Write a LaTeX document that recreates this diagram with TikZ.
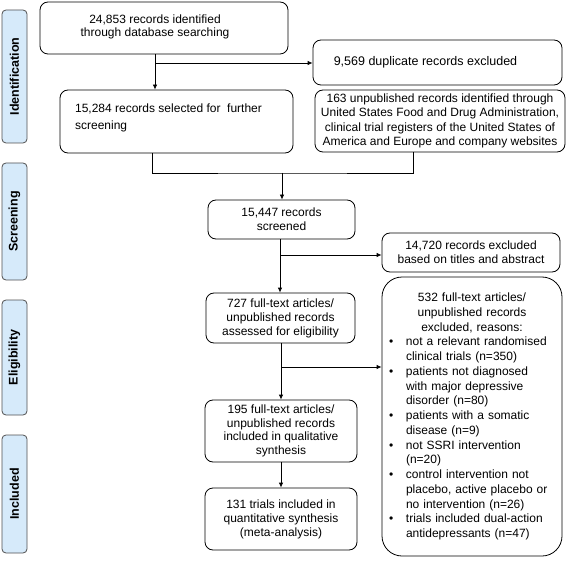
\documentclass[tikz,border=0pt]{standalone}
\usepackage{fontspec}
\setmainfont{Liberation Sans}
\usetikzlibrary{arrows.meta}
\definecolor{sideblue}{RGB}{214,234,250}
\definecolor{sidegray}{RGB}{80,80,80}
\begin{document}
\begin{tikzpicture}[x=1pt,y=-1pt,
  box/.style={draw, rounded corners=8pt, line width=0.8pt, inner sep=0pt, align=center,
    font=\fontsize{12}{14}\selectfont},
  side/.style={draw=sidegray, fill=sideblue, rounded corners=4pt, line width=0.8pt,
    minimum height=25pt, inner sep=0pt, rotate=90, font=\bfseries\fontsize{12.5}{14}\selectfont},
  arr/.style={-{Latex[length=5pt,width=4.5pt]}, line width=0.8pt},
  ln/.style={line width=0.8pt}]
\useasboundingbox (0,0) rectangle (567,561);

% phase labels
\node[side, minimum width=133pt] (sid) at (14.5,76.5) {Identification};
\node[side, minimum width=117pt] (ssc) at (14.5,221.5) {Screening};
\node[side, minimum width=115pt] (sel) at (14.5,357.5) {Eligibility};
\node[side, minimum width=118pt] (sin) at (14.5,494) {Included};

% boxes
\node[box, minimum width=248pt, minimum height=52pt,
  label={[align=center, font=\fontsize{12}{13.5}\selectfont, xshift=-9pt, yshift=1pt]center:{24,853 records identified\\through database searching}}] (A) at (164,28) {};
\node[box, minimum width=249pt, minimum height=45pt,
  label={[font=\fontsize{12.5}{14}\selectfont, xshift=-12pt]center:{9,569 duplicate records excluded}}] (B) at (437.5,62.5) {};
\node[box, minimum width=233pt, minimum height=63pt,
  label={[align=left, anchor=west, font=\fontsize{12}{16.5}\selectfont, xshift=12pt, yshift=3.5pt]west:{15,284 records selected for~ further\\screening}}] (C) at (176.5,121.5) {};
\node[box, minimum width=250pt, minimum height=62pt, font=\fontsize{12}{14.3}\selectfont] (D) at (440,121)
  {163 unpublished records identified through\\United States Food and Drug Administration,\\clinical trial registers of the United States of\\America and Europe and company websites};
\node[box, minimum width=147pt, minimum height=39pt] (E) at (281.5,219.5) {15,447 records\\screened};
\node[box, minimum width=178pt, minimum height=39pt] (G) at (471,252.5) {14,720 records excluded\\based on titles and abstract};
\node[box, minimum width=149pt, minimum height=50pt] (F) at (280.5,318) {727 full-text articles/\\unpublished records\\assessed for eligibility};
\node[box, minimum width=152pt, minimum height=62pt, font=\fontsize{12}{13.5}\selectfont] (H) at (281,431) {195 full-text articles/\\unpublished records\\included in qualitative\\synthesis};
\node[box, minimum width=152pt, minimum height=62pt] (J) at (281,519) {131 trials included in\\quantitative synthesis\\(meta-analysis)};
\node[box, rounded corners=20pt, minimum width=180pt, minimum height=279pt, inner xsep=7pt,
  align=left, text width=166pt, font=\fontsize{12}{14.75}\selectfont] (I) at (472,416.5) {%
    {\centering 532 full-text articles/\\unpublished records\\excluded, reasons:\par}
    \makebox[17pt][l]{\textbullet}not a relevant randomised\\
    \hspace*{17pt}clinical trials (n=350)\\
    \makebox[17pt][l]{\textbullet}patients not diagnosed\\
    \hspace*{17pt}with major depressive\\
    \hspace*{17pt}disorder (n=80)\\
    \makebox[17pt][l]{\textbullet}patients with a somatic\\
    \hspace*{17pt}disease (n=9)\\
    \makebox[17pt][l]{\textbullet}not SSRI intervention\\
    \hspace*{17pt}(n=20)\\
    \makebox[17pt][l]{\textbullet}control intervention not\\
    \hspace*{17pt}placebo, active placebo or\\
    \hspace*{17pt}no intervention (n=26)\\
    \makebox[17pt][l]{\textbullet}trials included dual-action\\
    \hspace*{17pt}antidepressants (n=47)};

% connectors
\coordinate (j1) at (155,63);
\draw[arr] (A.south -| j1) -- (C.north -| j1);
\draw[arr] (j1) -- (j1 -| B.west);
\coordinate (cx) at (152,0);
\coordinate (dx) at (413,0);
\coordinate (m) at (282,173);
\draw[ln] (C.south -| cx) |- (m) -| (D.south -| dx);
\draw[arr] (m) -- (E.north -| m);
\coordinate (j2) at (280,255);
\draw[arr] (E.south -| j2) -- (F.north -| j2);
\draw[arr] (j2) -- (j2 -| G.west);
\coordinate (j3) at (281,367);
\draw[arr] (F.south -| j3) -- (H.north -| j3);
\draw[arr] (j3) -- (j3 -| I.west);
\draw[arr] (H.south -| j3) -- (J.north -| j3);
\end{tikzpicture}
\end{document}
